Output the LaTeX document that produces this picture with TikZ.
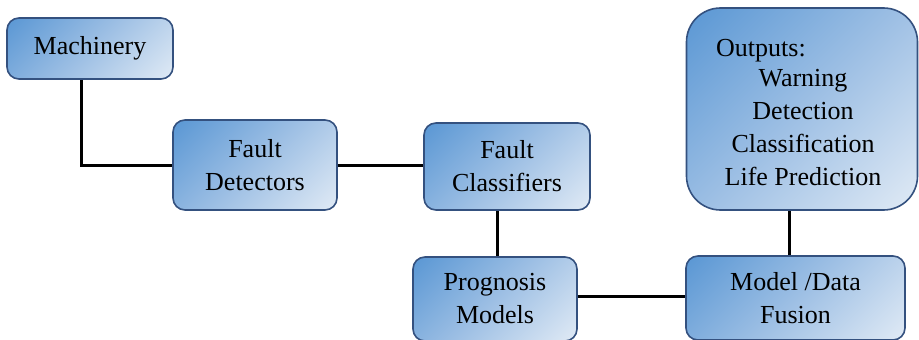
\documentclass[tikz,border=0pt]{standalone}
\usepackage{fontspec}
\setmainfont{Liberation Serif}
\definecolor{boxdark}{HTML}{5A97D4}
\definecolor{boxmid}{HTML}{9DBFE4}
\definecolor{boxlight}{HTML}{E0EAF5}
\definecolor{boxedge}{HTML}{34517F}
% diagonal fill: stops stretched so the box corners reach the end colours
\pgfdeclareverticalshading{boxfill}{100bp}{%
  color(0bp)=(boxlight); color(15bp)=(boxlight); color(50bp)=(boxmid);
  color(85bp)=(boxdark); color(100bp)=(boxdark)}
\tikzset{
  stagebox/.style={draw=boxedge, line width=1.6pt, rounded corners=12pt,
    shading=boxfill, shading angle=45,
    inner sep=0pt, align=center, font=\fontsize{26}{33}\selectfont},
  link/.style={line width=3pt, black},
  txt/.style={inner sep=0pt, font=\fontsize{26}{33}\selectfont}
}
\begin{document}
\begin{tikzpicture}[x=1pt, y=-1pt]
\useasboundingbox (0,0) rectangle (919,340);
% processing stages
\node[stagebox, minimum width=166pt, minimum height=61pt] (mach) at (90,48.5) {Machinery};
\node[stagebox, minimum width=164pt, minimum height=90pt] (det) at (255,165) {Fault\\Detectors};
\node[stagebox, minimum width=166pt, minimum height=87pt] (cls) at (507,166.5) {Fault\\Classifiers};
\node[stagebox, minimum width=164pt, minimum height=84pt] (prog) at (495,299) {Prognosis\\Models};
\node[stagebox, minimum width=219pt, minimum height=84pt] (fus) at (795.5,298) {Model /Data\\Fusion};
\node[stagebox, rounded corners=34pt, minimum width=231pt, minimum height=202pt] (out) at (802,109) {};
% output list
\node[txt, anchor=base west] (outhead) at (716,56) {Outputs:};
\node[txt, align=center, anchor=north] (outlist) at (803,69.5) {Warning\\Detection\\Classification\\Life Prediction};
% connectors
\draw[link] (mach.south -| 81,0) |- (det.west);
\draw[link] (det.east) -- (cls.west |- det.east);
\draw[link] (cls.south -| 497,0) -- (prog.north -| 497,0);
\draw[link] (prog.east |- 0,296) -- (fus.west |- 0,296);
\draw[link] (fus.north -| 789,0) -- (out.south -| 789,0);
\end{tikzpicture}
\end{document}
